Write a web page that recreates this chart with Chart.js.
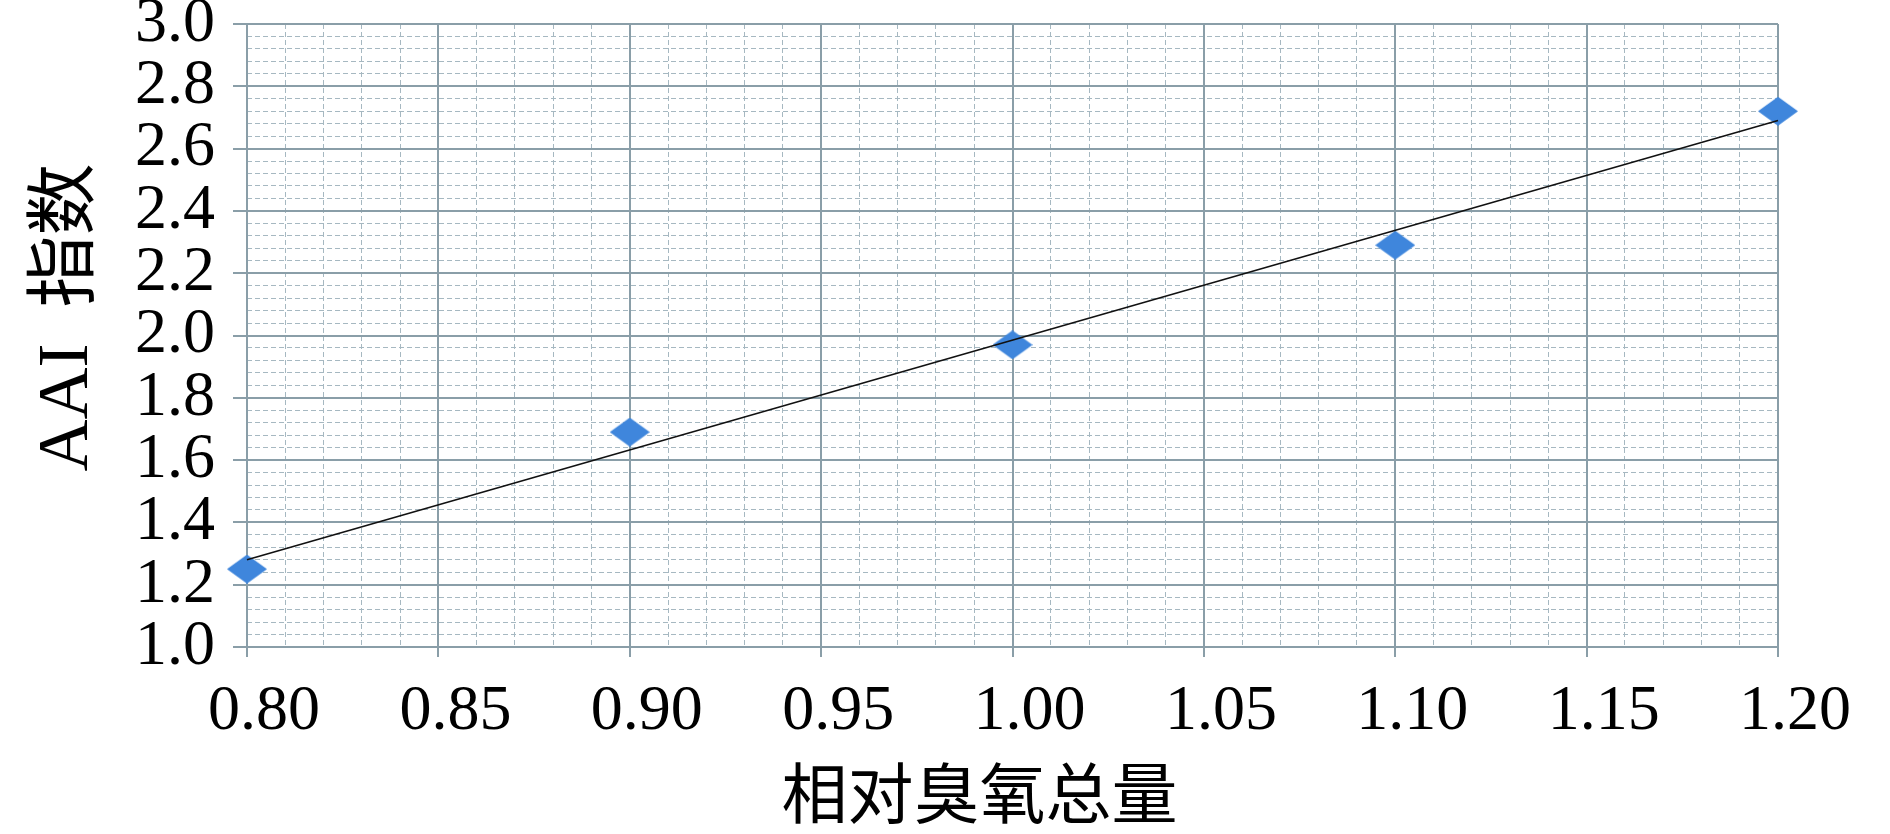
<!DOCTYPE html>
<html>
<head>
<meta charset="utf-8">
<script src="https://cdn.jsdelivr.net/npm/chart.js@4.4.1/dist/chart.umd.min.js"></script>
<style>
  html, body { margin: 0; padding: 0; background: #fff; }
  #wrap { width: 1890px; height: 834px; position: relative; }
</style>
</head>
<body>
<div id="wrap"><canvas id="chart"></canvas></div>
<script>
// data
const ozoneX = [0.80, 0.90, 1.00, 1.10, 1.20];
const aaiY = [1.25, 1.69, 1.97, 2.29, 2.72];
// linear trend line end points (as drawn)
const trendX = [0.80, 1.20];
const trendY = [1.28, 2.69];

// spacing in the titles nudges them to where they sit in the original
const xTitle = '相对臭氧总量\u3000';
const yTitle = '  AAI  指数';

const MAJOR = '#8a9ea8';
const MINOR = '#a6b8c1';
const serif = "'Liberation Serif', 'Times New Roman', 'Noto Sans CJK SC', serif";

// wide diamond marker
function makeDiamond(w, h, color) {
  const c = document.createElement('canvas');
  c.width = w; c.height = h;
  const g = c.getContext('2d');
  g.fillStyle = color;
  g.beginPath();
  g.moveTo(w / 2, 0);
  g.lineTo(w, h / 2);
  g.lineTo(w / 2, h);
  g.lineTo(0, h / 2);
  g.closePath();
  g.fill();
  return c;
}
const diamond = makeDiamond(40, 29, '#3f86dc');

const ctx = document.getElementById('chart').getContext('2d');
new Chart(ctx, {
  type: 'scatter',
  data: {
    datasets: [
      {
        type: 'line',
        data: trendX.map((x, i) => ({ x, y: trendY[i] })),
        borderColor: '#111',
        borderWidth: 1.6,
        pointRadius: 0,
        fill: false,
        clip: false,
        order: 0,
      },
      {
        data: ozoneX.map((x, i) => ({ x, y: aaiY[i] })),
        pointStyle: diamond,
        pointRadius: 20,
        clip: false,
        order: 1,
      }
    ]
  },
  options: {
    responsive: true, maintainAspectRatio: false, animation: false,
    layout: { padding: { top: 24, right: 112, bottom: 0, left: 0 } },
    plugins: { legend: { display: false }, tooltip: { enabled: false } },
    scales: {
      xMinor: {
        type: 'linear', position: 'bottom', min: 0.8, max: 1.2, z: -1,
        ticks: { display: false, stepSize: 0.01, maxTicksLimit: 1000, autoSkip: false },
        grid: { color: MINOR, lineWidth: 1, drawTicks: false },
        border: { display: false, dash: [5, 3] },
        afterFit: s => { s.height = 0; s.paddingLeft = s.paddingRight = 0; }
      },
      yMinor: {
        type: 'linear', position: 'left', min: 1, max: 3, z: -1,
        ticks: { display: false, stepSize: 0.04, maxTicksLimit: 1000, autoSkip: false },
        grid: { color: MINOR, lineWidth: 1, drawTicks: false },
        border: { display: false, dash: [5, 3] },
        afterFit: s => { s.width = 0; s.paddingTop = s.paddingBottom = 0; }
      },
      x: {
        type: 'linear', position: 'bottom', min: 0.8, max: 1.2,
        ticks: {
          stepSize: 0.05, autoSkip: false, maxRotation: 0, padding: 17, labelOffset: 17,
          color: '#000', font: { family: serif, size: 64 },
          callback: v => v.toFixed(2)
        },
        grid: { color: MAJOR, lineWidth: 2, tickLength: 10, tickColor: MAJOR },
        border: { display: false },
        title: {
          display: true, text: xTitle, color: '#000',
          font: { family: serif, size: 66, lineHeight: 1 }, padding: { top: 0, bottom: 0 }
        },
        afterFit: s => { s.height = 834 - 647; s.paddingLeft = s.paddingRight = 0; }
      },
      y: {
        type: 'linear', position: 'left', min: 1, max: 3,
        ticks: {
          stepSize: 0.2, autoSkip: false, padding: 18,
          color: '#000', font: { family: serif, size: 64 },
          callback: v => v.toFixed(1)
        },
        grid: { color: MAJOR, lineWidth: 2, tickLength: 14, tickColor: MAJOR },
        border: { display: false },
        title: {
          display: true, text: yTitle, color: '#000',
          font: { family: serif, size: 72, lineHeight: 1 }, padding: { top: 32, bottom: 0 }
        },
        afterFit: s => { s.width = 247; s.paddingTop = s.paddingBottom = 0; }
      }
    }
  }
});
</script>
</body>
</html>
